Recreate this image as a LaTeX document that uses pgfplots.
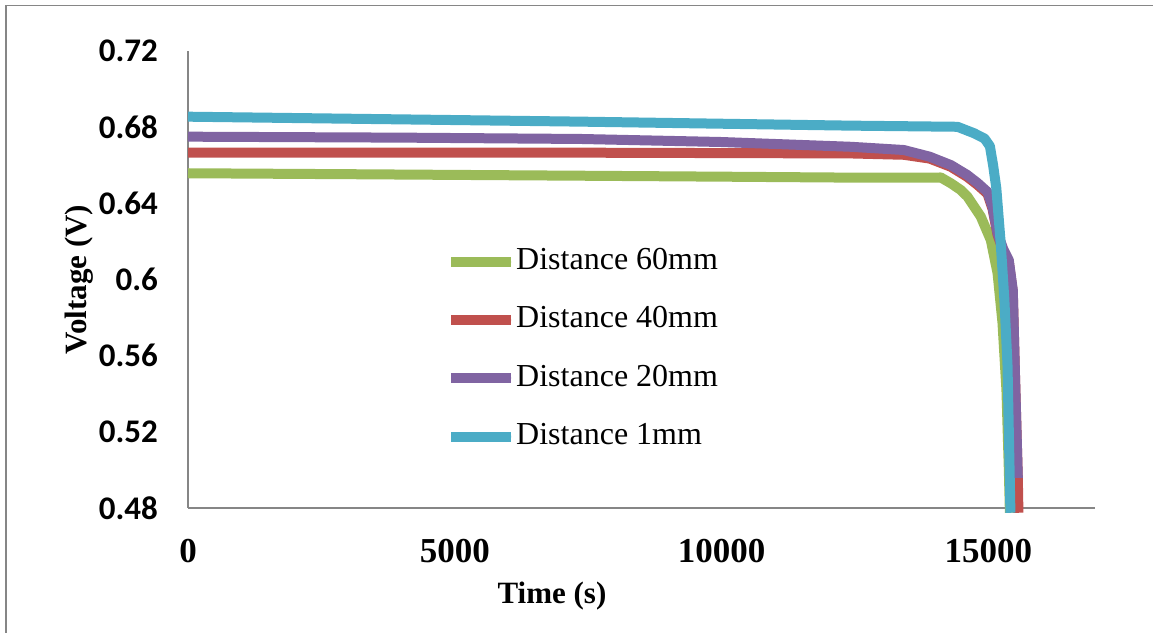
\documentclass[border=0pt]{standalone}
\usepackage{fontspec}
\setmainfont{Liberation Serif}
\newfontfamily\carlito{Carlito}
\usepackage{pgfplots}
\pgfplotsset{compat=1.18}
\definecolor{cGreen}{HTML}{9BBB59}
\definecolor{cRed}{HTML}{C0504D}
\definecolor{cPurple}{HTML}{8064A2}
\definecolor{cCyan}{HTML}{4BACC6}
\definecolor{axgray}{RGB}{134,134,134}
\begin{document}
\begin{tikzpicture}
\begin{axis}[
  at={(188bp,125bp)}, anchor=south west,
  scale only axis, width=907bp, height=457bp,
  xmin=0, xmax=17000, ymin=0.48, ymax=0.72,
  axis x line*=bottom, axis y line*=left,
  axis line style={draw=axgray, line width=2bp, -},
  clip=false,
  major tick length=0pt,
  xtick={0,5000,10000,15000},
  xticklabels={0,5000,10000,15000},
  scaled x ticks=false,
  ytick={0.48,0.52,0.56,0.6,0.64,0.68,0.72},
  yticklabels={0.48,0.52,0.56,0.6,0.64,0.68,0.72},
  xticklabel style={font=\fontsize{35bp}{40bp}\selectfont\bfseries, anchor=base, yshift=-54bp, inner sep=0pt},
  yticklabel style={font=\fontsize{33bp}{38bp}\selectfont\carlito\bfseries, anchor=east, xshift=-30bp, inner sep=0pt},
  xlabel={Time (s)},
  ylabel={Voltage (V)},
  xlabel style={font=\fontsize{31bp}{36bp}\selectfont\bfseries, at={(axis description cs:0.4013,-0.2079)}, anchor=base, inner sep=0pt},
  ylabel style={font=\fontsize{31bp}{36bp}\selectfont\bfseries, at={(axis description cs:-0.1114,0.5)}, anchor=base, inner sep=0pt},
  legend cell align=left,
  legend style={at={(axis description cs:0.2845,0.5744)}, anchor=north west, draw=none, fill=none, inner sep=0pt, row sep=26.3bp,
    font=\fontsize{32bp}{36bp}\selectfont,
    nodes={inner xsep=0pt, inner ysep=0pt, text height=24bp, text depth=8bp}},
  legend image code/.code={\path (0bp,0bp) -- (60bp,0bp); \draw[#1, line cap=round, line width=10bp] (5bp,0bp) -- (55bp,0bp);},
  every axis plot/.append style={line width=10bp, line join=round},
]
\addplot[cGreen] coordinates {
(0,0.6558) (3000,0.6553) (7359,0.6545) (10000,0.6540) (12422,0.6535) (14048,0.6535) (14109,0.6536)
(14300,0.6505) (14484,0.6470) (14610,0.6435) (14859,0.6330) (15047,0.6207) (15173,0.6034)
(15266,0.5772) (15340,0.5420) (15385,0.5000) (15405,0.4775)
};
\addlegendentry{Distance 60mm}
\addplot[cRed] coordinates {
(0,0.6666) (7359,0.6666) (12422,0.6662) (13416,0.6655) (13900,0.6635) (14297,0.6592) (14600,0.6540)
(14798,0.6497) (14985,0.6450) (15080,0.6370) (15173,0.6235) (15280,0.6150) (15384,0.6092)
(15459,0.5935) (15500,0.5500) (15553,0.4958) (15565,0.4775)
};
\addlegendentry{Distance 40mm}
\addplot[cPurple] coordinates {
(0,0.6750) (4000,0.6745) (7359,0.6738) (10000,0.6722) (12422,0.6697) (13416,0.6680) (13900,0.6645)
(14297,0.6601) (14600,0.6550) (14798,0.6507) (14985,0.6460) (15080,0.6380) (15173,0.6244)
(15280,0.6160) (15384,0.6102) (15459,0.5945) (15500,0.5500) (15553,0.4958)
};
\addlegendentry{Distance 20mm}
\addplot[cCyan] coordinates {
(0,0.6855) (7359,0.6829) (12422,0.6808) (14423,0.6802) (14734,0.6768) (14930,0.6740) (15030,0.6700)
(15090,0.6600) (15150,0.6480) (15230,0.6200) (15300,0.5900) (15360,0.5550) (15413,0.4800) (15416,0.4775)
};
\addlegendentry{Distance 1mm}
\end{axis}
\draw[axgray, line width=1.5bp] (6bp,0bp) -- (6bp,627.5bp) -- (1153bp,627.5bp);
\pgfresetboundingbox
\useasboundingbox (0bp,0bp) rectangle (1153bp,633bp);
\end{tikzpicture}
\end{document}
